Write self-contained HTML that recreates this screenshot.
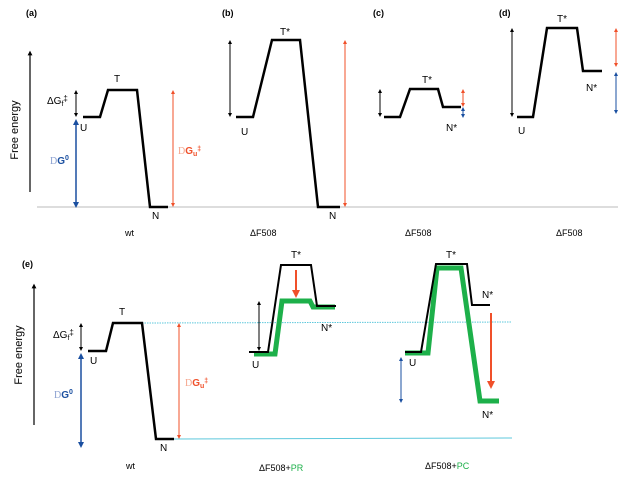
<!DOCTYPE html>
<html><head><meta charset="utf-8"><style>
body{margin:0;background:#fff}
svg{display:block;font-family:"Liberation Sans",sans-serif}
</style></head><body>
<svg width="629" height="486" viewBox="0 0 629 486">
<defs>
<marker id="hk" viewBox="0 0 10 10" refX="5" refY="5" markerWidth="4" markerHeight="5" orient="auto-start-reverse"><path d="M0,0L10,5L0,10z" fill="#000"/></marker>
<marker id="hb" viewBox="0 0 10 10" refX="5" refY="5" markerWidth="4" markerHeight="5" orient="auto-start-reverse"><path d="M0,0L10,5L0,10z" fill="#1a4fa0"/></marker>
<marker id="hr" viewBox="0 0 10 10" refX="5" refY="5" markerWidth="4" markerHeight="5" orient="auto-start-reverse"><path d="M0,0L10,5L0,10z" fill="#f0502a"/></marker>
</defs>
<g font-size="10" fill="#000">
<!-- top row -->
<line x1="37" y1="207" x2="618" y2="207" stroke="#bbb" stroke-width="1"/>
<text x="26" y="16" font-size="9" font-weight="bold">(a)</text>
<text x="222" y="16" font-size="9" font-weight="bold">(b)</text>
<text x="373" y="16" font-size="9" font-weight="bold">(c)</text>
<text x="499" y="16" font-size="9" font-weight="bold">(d)</text>
<line x1="30" y1="192" x2="30" y2="53" stroke="#000" stroke-width="1.2" marker-end="url(#hk)"/>
<text transform="translate(18,130) rotate(-90)" text-anchor="middle" font-size="11">Free energy</text>
<!-- a -->
<polyline points="83,117 100,117 108,90 137,90 150,207 168,207" fill="none" stroke="#000" stroke-width="2.5"/>
<line x1="76" y1="92" x2="76" y2="115" stroke="#000" stroke-width="1" marker-start="url(#hk)" marker-end="url(#hk)"/>
<line x1="76" y1="122" x2="76" y2="205" stroke="#1a4fa0" stroke-width="1.5" marker-start="url(#hb)" marker-end="url(#hb)"/>
<line x1="173" y1="92" x2="173" y2="205" stroke="#f0502a" stroke-width="1" marker-start="url(#hr)" marker-end="url(#hr)"/>
<text x="47" y="104" font-size="10">ΔG<tspan font-size="7" dy="2">f</tspan><tspan dy="-5" font-size="8">‡</tspan></text>
<text x="50" y="164" fill="#1a4fa0" font-weight="bold"><tspan fill="#8aa0d0" font-weight="normal" font-family="Liberation Serif">D</tspan>G<tspan font-size="7" dy="-4">0</tspan></text>
<text x="178" y="154" fill="#f0502a" font-weight="bold"><tspan fill="#f5a58c" font-weight="normal" font-family="Liberation Serif">D</tspan>G<tspan font-size="7" dy="2">u</tspan><tspan font-size="7" dy="-5">‡</tspan></text>
<text x="80" y="131">U</text><text x="114" y="82">T</text><text x="152" y="219">N</text>
<text x="125" y="236" font-size="9">wt</text>
<!-- b -->
<polyline points="236,117 253,117 272,40 300,40 318,207 340,207" fill="none" stroke="#000" stroke-width="2.5"/>
<line x1="230" y1="42" x2="230" y2="115" stroke="#000" stroke-width="1" marker-start="url(#hk)" marker-end="url(#hk)"/>
<line x1="345" y1="42" x2="345" y2="205" stroke="#f0502a" stroke-width="1" marker-start="url(#hr)" marker-end="url(#hr)"/>
<text x="280" y="35">T*</text><text x="241" y="135">U</text><text x="329" y="219">N</text>
<text x="250" y="236" font-size="9">ΔF508</text>
<!-- c -->
<polyline points="384,117 400,117 410,89 438,89 443,107 461,107" fill="none" stroke="#000" stroke-width="2.5"/>
<line x1="380" y1="91" x2="380" y2="115" stroke="#000" stroke-width="1" marker-start="url(#hk)" marker-end="url(#hk)"/>
<line x1="463" y1="91" x2="463" y2="105" stroke="#f0502a" stroke-width="1" marker-start="url(#hr)" marker-end="url(#hr)"/>
<line x1="463" y1="109" x2="463" y2="116" stroke="#1a4fa0" stroke-width="1" marker-start="url(#hb)" marker-end="url(#hb)"/>
<text x="422" y="83">T*</text><text x="446" y="131">N*</text>
<text x="405" y="236" font-size="9">ΔF508</text>
<!-- d -->
<polyline points="517,117 533,117 547,28 577,28 583,71 602,71" fill="none" stroke="#000" stroke-width="2.5"/>
<line x1="512" y1="30" x2="512" y2="115" stroke="#000" stroke-width="1" marker-start="url(#hk)" marker-end="url(#hk)"/>
<line x1="616" y1="30" x2="616" y2="65" stroke="#f0502a" stroke-width="1" marker-start="url(#hr)" marker-end="url(#hr)"/>
<line x1="616" y1="74" x2="616" y2="112" stroke="#1a4fa0" stroke-width="1" marker-start="url(#hb)" marker-end="url(#hb)"/>
<text x="557" y="22">T*</text><text x="586" y="91">N*</text><text x="518" y="134">U</text>
<text x="556" y="236" font-size="9">ΔF508</text>
<!-- bottom row -->
<text x="22" y="267" font-size="9" font-weight="bold">(e)</text>
<line x1="34" y1="425" x2="34" y2="286" stroke="#000" stroke-width="1.2" marker-end="url(#hk)"/>
<text transform="translate(22,355) rotate(-90)" text-anchor="middle" font-size="11">Free energy</text>
<line x1="142" y1="323" x2="512" y2="322" stroke="#5ec8dc" stroke-width="1" stroke-dasharray="1.5,1"/>
<line x1="174" y1="439" x2="512" y2="438" stroke="#5ec8dc" stroke-width="1"/>
<polyline points="88,351 106,351 113,323 142,323 156,439 174,439" fill="none" stroke="#000" stroke-width="2.5"/>
<line x1="81" y1="325" x2="81" y2="349" stroke="#000" stroke-width="1" marker-start="url(#hk)" marker-end="url(#hk)"/>
<line x1="81" y1="356" x2="81" y2="445" stroke="#1a4fa0" stroke-width="1.5" marker-start="url(#hb)" marker-end="url(#hb)"/>
<line x1="179" y1="325" x2="179" y2="437" stroke="#f0502a" stroke-width="1" marker-start="url(#hr)" marker-end="url(#hr)"/>
<text x="53" y="338">ΔG<tspan font-size="7" dy="2">f</tspan><tspan dy="-5" font-size="8">‡</tspan></text>
<text x="54" y="398" fill="#1a4fa0" font-weight="bold"><tspan fill="#8aa0d0" font-weight="normal" font-family="Liberation Serif">D</tspan>G<tspan font-size="7" dy="-4">0</tspan></text>
<text x="185" y="386" fill="#f0502a" font-weight="bold"><tspan fill="#f5a58c" font-weight="normal" font-family="Liberation Serif">D</tspan>G<tspan font-size="7" dy="2">u</tspan><tspan font-size="7" dy="-5">‡</tspan></text>
<text x="90" y="364">U</text><text x="119" y="315">T</text><text x="160" y="451">N</text>
<text x="126" y="469" font-size="9">wt</text>
<!-- PR -->
<polyline points="254,354 275,354 282,301 310,301 313,307 335,307" fill="none" stroke="#1db04a" stroke-width="5"/>
<polyline points="249,352 268,352 281,265 311,265 317,306 336,306" fill="none" stroke="#000" stroke-width="2"/>
<line x1="296" y1="270" x2="296" y2="294" stroke="#f0502a" stroke-width="2" marker-end="url(#hr)"/>
<line x1="259" y1="303" x2="259" y2="349" stroke="#000" stroke-width="1" marker-start="url(#hk)" marker-end="url(#hk)"/>
<text x="291" y="258">T*</text><text x="321" y="331">N*</text><text x="252" y="368">U</text>
<text x="259" y="471" font-size="9">ΔF508+<tspan fill="#1db04a">PR</tspan></text>
<!-- PC -->
<polyline points="405,353 428,353 437,268 461,268 480,401 499,401" fill="none" stroke="#1db04a" stroke-width="5"/>
<polyline points="405,352 421,352 436,264 467,264 472,305 490,305" fill="none" stroke="#000" stroke-width="2"/>
<line x1="491" y1="313" x2="491" y2="385" stroke="#f0502a" stroke-width="2" marker-end="url(#hr)"/>
<line x1="401" y1="359" x2="401" y2="401" stroke="#1a4fa0" stroke-width="1" marker-start="url(#hb)" marker-end="url(#hb)"/>
<text x="446" y="258">T*</text><text x="482" y="298">N*</text><text x="482" y="418">N*</text><text x="409" y="366">U</text>
<text x="425" y="469" font-size="9">ΔF508+<tspan fill="#1db04a">PC</tspan></text>
</g>
</svg>
</body></html>
